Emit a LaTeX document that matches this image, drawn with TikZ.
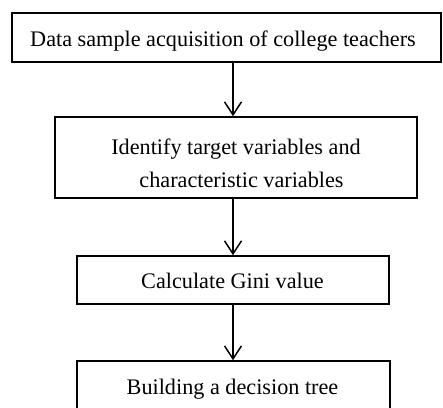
\documentclass[tikz,border=0pt]{standalone}
\usepackage{fontspec}
\setmainfont{Liberation Serif}
\usetikzlibrary{arrows.meta}
\begin{document}
\begin{tikzpicture}[x=1bp,y=-1bp,
  stepbox/.style={draw, line width=1.6bp, inner sep=0pt},
  steptext/.style={anchor=base, inner sep=0pt, font=\fontsize{22.3}{33}\selectfont},
  flow/.style={line width=1.5bp, -{Straight Barb[length=13bp,width=17bp,line width=1.5bp]}}]
\useasboundingbox (0,0) rectangle (443,407);
\clip (0,0) rectangle (443,407);
\node[stepbox, minimum width=429bp, minimum height=49bp] (b1) at (226.5,37.5) {};
\node[stepbox, minimum width=362bp, minimum height=81bp] (b2) at (236,157.5) {};
\node[stepbox, minimum width=312bp, minimum height=48bp] (b3) at (233,280) {};
\node[stepbox, minimum width=313bp, minimum height=50bp] (b4) at (233.5,386) {};
\node[steptext] (t1) at (223,46.5) {Data sample acquisition of college teachers};
\node[steptext] (t2a) at (236,154) {Identify target variables and};
\node[steptext] (t2b) at (241.5,187) {characteristic variables};
\node[steptext] (t3) at (232.5,288.5) {Calculate Gini value};
\node[steptext] (t4) at (232.5,394) {Building a decision tree};
\draw[flow] (b1.south -| b3.north) -- (b2.north -| b3.north);
\draw[flow] (b2.south -| b3.north) -- (b3.north);
\draw[flow] (b3.south) -- (b4.north -| b3.south);
\end{tikzpicture}
\end{document}
